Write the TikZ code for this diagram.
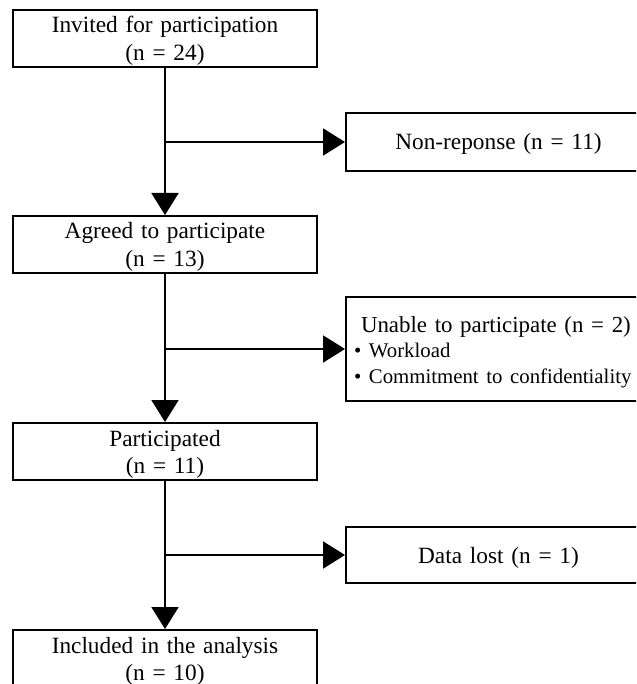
\documentclass[tikz,border=0pt]{standalone}
\usepackage{fontspec}
\setmainfont{Liberation Serif}
\usetikzlibrary{arrows.meta}
\begin{document}
\begin{tikzpicture}[x=1pt,y=-1pt,
  every node/.style={font=\fontsize{23.3}{27.5}\selectfont},
  lbox/.style={draw, line width=2pt, inner sep=0pt, align=center,
    minimum width=304pt, text width=300pt, minimum height=57pt,
    text height=23pt, text depth=34pt},
  rbox/.style={draw, line width=2pt, inner sep=0pt, align=center,
    anchor=west, minimum width=305pt, text width=300pt},
  arr/.style={line width=2pt, -{Triangle[length=22pt,width=27pt]}}]
\useasboundingbox (0,0) rectangle (636,684);
\clip (0,0) rectangle (636,684);
\node[lbox] (b1) at (165,38.5) {Invited for participation\\(n = 24)};
\node[lbox] (b2) at (165,244.5) {Agreed to participate\\(n = 13)};
\node[lbox] (b3) at (165,451.5) {Participated\\(n = 11)};
\node[lbox] (b4) at (165,658.5) {Included in the analysis\\(n = 10)};
\node[rbox, minimum height=58pt, text height=37pt, text depth=21pt] (r1) at (345,142) {Non-reponse (n = 11)};
\node[draw, line width=2pt, anchor=west, inner ysep=0pt, inner xsep=8pt, align=left,
  text width=330pt, minimum height=104pt,
  text height=35pt, text depth=69pt,
  font=\fontsize{22.9}{25.5}\selectfont] (r2) at (345,349)
  {\hspace*{7pt}Unable to participate (n = 2)\\\fontsize{20.8}{25.5}\selectfont • Workload\\• Commitment to confidentiality};
\node[rbox, minimum height=56pt, text height=36.5pt, text depth=19.5pt] (r3) at (345,555) {Data lost (n = 1)};
\draw[arr] (b1.south) -- (b2.north);
\draw[arr] (b2.south) -- (b3.north);
\draw[arr] (b3.south) -- (b4.north);
\draw[arr] (b1.south |- r1.west) -- (r1.west);
\draw[arr] (b2.south |- r2.west) -- (r2.west);
\draw[arr] (b3.south |- r3.west) -- (r3.west);
\end{tikzpicture}
\end{document}
